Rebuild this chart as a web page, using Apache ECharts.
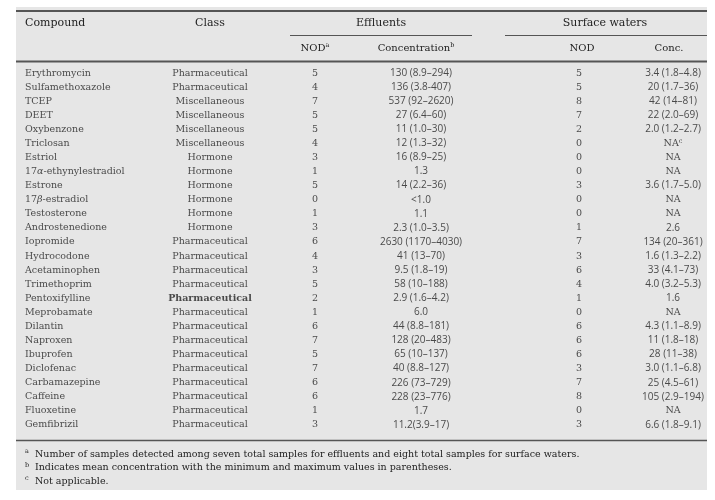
<!DOCTYPE html>
<html><head><meta charset="utf-8">
<script src="https://cdn.jsdelivr.net/npm/echarts@6/dist/echarts.min.js"></script>
<style>html,body{margin:0;padding:0;background:#fff}#c{width:715px;height:500px}</style>
</head><body><div id="c"></div>
<script>
const compounds = ['Erythromycin','Sulfamethoxazole','TCEP','DEET','Oxybenzone','Triclosan','Estriol','17α-ethynylestradiol','Estrone','17β-estradiol','Testosterone','Androstenedione','Iopromide','Hydrocodone','Acetaminophen','Trimethoprim','Pentoxifylline','Meprobamate','Dilantin','Naproxen','Ibuprofen','Diclofenac','Carbamazepine','Caffeine','Fluoxetine','Gemfibrizil'];
const classes = ['Pharmaceutical','Pharmaceutical','Miscellaneous','Miscellaneous','Miscellaneous','Miscellaneous','Hormone','Hormone','Hormone','Hormone','Hormone','Hormone','Pharmaceutical','Pharmaceutical','Pharmaceutical','Pharmaceutical','Pharmaceutical','Pharmaceutical','Pharmaceutical','Pharmaceutical','Pharmaceutical','Pharmaceutical','Pharmaceutical','Pharmaceutical','Pharmaceutical','Pharmaceutical'];
const effNOD = ['5','4','7','5','5','4','3','1','5','0','1','3','6','4','3','5','2','1','6','7','5','7','6','6','1','3'];
const effConc = ['130 (8.9–294)','136 (3.8-407)','537 (92–2620)','27 (6.4–60)','11 (1.0–30)','12 (1.3–32)','16 (8.9–25)','1.3','14 (2.2–36)','<1.0','1.1','2.3 (1.0–3.5)','2630 (1170–4030)','41 (13–70)','9.5 (1.8–19)','58 (10–188)','2.9 (1.6–4.2)','6.0','44 (8.8–181)','128 (20–483)','65 (10–137)','40 (8.8–127)','226 (73–729)','228 (23–776)','1.7','11.2(3.9–17)'];
const swNOD = ['5','5','8','7','2','0','0','0','3','0','0','1','7','3','6','4','1','0','6','6','6','3','7','8','0','3'];
const swConc = ['3.4 (1.8–4.8)','20 (1.7–36)','42 (14–81)','22 (2.0–69)','2.0 (1.2–2.7)','NA^c','NA','NA','3.6 (1.7–5.0)','NA','NA','2.6','134 (20–361)','1.6 (1.3–2.2)','33 (4.1–73)','4.0 (3.2–5.3)','1.6','NA','4.3 (1.1–8.9)','11 (1.8–18)','28 (11–38)','3.0 (1.1–6.8)','25 (4.5–61)','105 (2.9–194)','NA','6.6 (1.8–9.1)'];
const boldClassRow = 16;
const headers = {compound:'Compound', cls:'Class', eff:'Effluents', sw:'Surface waters', nodA:'NOD^a', concB:'Concentration^b', nod:'NOD', conc:'Conc.'};
const footnotes = [['a','Number of samples detected among seven total samples for effluents and eight total samples for surface waters.'],['b','Indicates mean concentration with the minimum and maximum values in parentheses.'],['c','Not applicable.']];

const SERIF = '"DejaVu Serif", serif';
const SANS = '"Open Sans", sans-serif';
const TXT = '#222222';
const rich = {
  sup: {fontSize: 6.5, verticalAlign: 'top', padding: [0,0,5,0], fontFamily: SERIF, color: TXT},
  it: {fontStyle: 'italic', fontFamily: SERIF, fontSize: 9.5, color: TXT},
  s: {fontFamily: SERIF, fontSize: 9.5, color: TXT},
  b: {fontFamily: SERIF, fontSize: 9.5, fontWeight: 'bold', color: TXT},
  na: {fontFamily: SERIF, fontSize: 9.5, color: TXT}
};
function fmt(t) {
  return String(t).replace(/\^([a-z])/g, '{sup|$1}').replace(/([αβ])/g, '{it|$1}');
}
function fmtRich(t, base) {
  const parts = String(t).split(/(\^[a-z]|[αβ])/).filter(s => s !== '');
  return parts.map(p => p[0] === '^' ? '{sup|' + p.slice(1) + '}' : (p === 'α' || p === 'β') ? '{it|' + p + '}' : '{' + base + '|' + p + '}').join('');
}
function col(x, arr, align, font, size, styleFn) {
  return {
    type: 'scatter', symbolSize: 0, silent: true, animation: false,
    data: arr.map((v, i) => [x, i]),
    label: {
      show: true, position: 'inside', align: align, verticalAlign: 'middle',
      color: TXT, fontFamily: font, fontSize: size, rich: rich,
      formatter: p => styleFn ? styleFn(arr[p.dataIndex], p.dataIndex) : fmt(arr[p.dataIndex])
    }
  };
}
const chart = echarts.init(document.getElementById('c'), null, {renderer: 'canvas'});
const BOX = {x: 16, y: 7, w: 691, h: 483};
const RULE = '#555555';
function hText(x, y, t, align, size) {
  return {type: 'text', x: x, y: y, silent: true, style: {text: fmtRich(t, 's'), align: align, verticalAlign: 'middle', fill: TXT, font: size + 'px ' + SERIF, rich: Object.assign({}, rich, {s: {fontFamily: SERIF, fontSize: size, color: TXT}})}};
}
const graphics = [
  {type: 'rect', shape: {x: BOX.x, y: BOX.y, width: BOX.w, height: BOX.h}, style: {fill: '#e6e6e6'}, z: -10, silent: true},
  {type: 'line', shape: {x1: BOX.x, y1: 11, x2: BOX.x + BOX.w, y2: 11}, style: {stroke: RULE, lineWidth: 2}, silent: true},
  {type: 'line', shape: {x1: 290, y1: 35.5, x2: 472, y2: 35.5}, style: {stroke: RULE, lineWidth: 1.2}, silent: true},
  {type: 'line', shape: {x1: 505, y1: 35.5, x2: BOX.x + BOX.w, y2: 35.5}, style: {stroke: RULE, lineWidth: 1.2}, silent: true},
  {type: 'line', shape: {x1: BOX.x, y1: 61.5, x2: BOX.x + BOX.w, y2: 61.5}, style: {stroke: RULE, lineWidth: 2}, silent: true},
  {type: 'line', shape: {x1: BOX.x, y1: 440.5, x2: BOX.x + BOX.w, y2: 440.5}, style: {stroke: RULE, lineWidth: 1.5}, silent: true},
  hText(25, 23, headers.compound, 'left', 11),
  hText(210, 23, headers.cls, 'center', 11),
  hText(381, 23, headers.eff, 'center', 11),
  hText(605, 23, headers.sw, 'center', 11),
  hText(315, 48, headers.nodA, 'center', 10),
  hText(416, 48, headers.concB, 'center', 10),
  hText(582, 48, headers.nod, 'center', 10),
  hText(669, 48, headers.conc, 'center', 10)
];
footnotes.forEach((f, i) => {
  const y = 454.5 + i * 13.5;
  graphics.push({type: 'text', x: 25, y: y - 3, silent: true, style: {text: f[0], align: 'left', verticalAlign: 'middle', fill: TXT, font: '6.5px ' + SERIF}});
  graphics.push({type: 'text', x: 35, y: y, silent: true, style: {text: f[1], align: 'left', verticalAlign: 'middle', fill: TXT, font: '9.5px ' + SERIF}});
});
chart.setOption({
  animation: false,
  grid: {left: 0, right: 0, top: 66, bottom: 68, containLabel: false},
  xAxis: {type: 'value', min: 0, max: 715, show: false},
  yAxis: {type: 'category', data: compounds.map((c, i) => i), inverse: true, show: false},
  graphic: graphics,
  series: [
    col(25, compounds, 'left', SERIF, 9.5, v => fmtRich(v, 's')),
    col(210, classes, 'center', SERIF, 9.5, (v, i) => i === boldClassRow ? '{b|' + v + '}' : '{s|' + v + '}'),
    col(315, effNOD, 'center', SERIF, 9.5),
    col(421, effConc, 'center', SANS, 10),
    col(579, swNOD, 'center', SERIF, 9.5),
    col(673, swConc, 'center', SANS, 10, v => v.startsWith('NA') ? fmtRich(v, 'na') : v)
  ]
});
</script></body></html>
